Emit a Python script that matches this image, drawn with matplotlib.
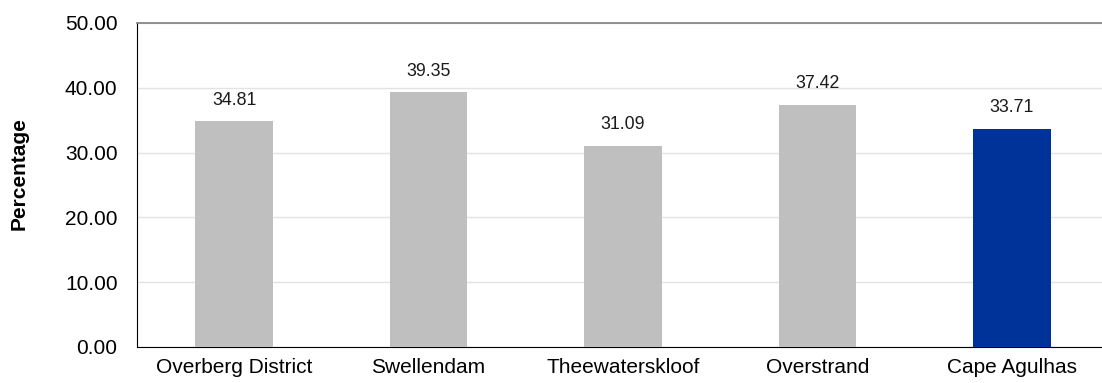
import matplotlib
matplotlib.use("Agg")
import matplotlib.pyplot as plt

categories = ["Overberg District", "Swellendam", "Theewaterskloof", "Overstrand", "Cape Agulhas"]
values = [34.81, 39.35, 31.09, 37.42, 33.71]
bar_colors = ["#bfbfbf", "#bfbfbf", "#bfbfbf", "#bfbfbf", "#003399"]
yticks = [0, 10, 20, 30, 40, 50]

plt.rcParams["font.family"] = ["Liberation Sans", "DejaVu Sans"]

fig = plt.figure(figsize=(11.02, 3.83), dpi=100)
ax = fig.add_axes([137 / 1102, 36 / 383, 972 / 1102, 324 / 383])

x = list(range(len(categories)))
ax.bar(x, values, width=0.40, color=bar_colors, zorder=3)

for xi, v in zip(x, values):
    ax.annotate(f"{v:.2f}", (xi, v), xytext=(0, 9), textcoords="offset points",
                ha="center", va="bottom", fontsize=12.8, color="#1a1a1a")

ax.set_xlim(-0.5, len(categories) - 0.5)
ax.set_ylim(0, 50)
ax.set_yticks(yticks)
ax.set_yticklabels([f"{t:.2f}" for t in yticks], fontsize=15)
ax.set_xticks(x)
ax.set_xticklabels(categories, fontsize=15)
ax.tick_params(axis="y", length=0, pad=14)
ax.tick_params(axis="x", length=0, pad=8)

ax.grid(axis="y", color="#e3e3e3", linewidth=1, zorder=0)
ax.spines["left"].set_color("black")
ax.spines["bottom"].set_color("black")
ax.spines["top"].set_color("#808080")
ax.spines["top"].set_linewidth(1.2)
ax.spines["right"].set_visible(False)

ax.set_ylabel("Percentage", fontsize=15, fontweight="bold")
ax.yaxis.set_label_coords(-108 / 972, 0.534)

fig.savefig("out.png", dpi=100)
